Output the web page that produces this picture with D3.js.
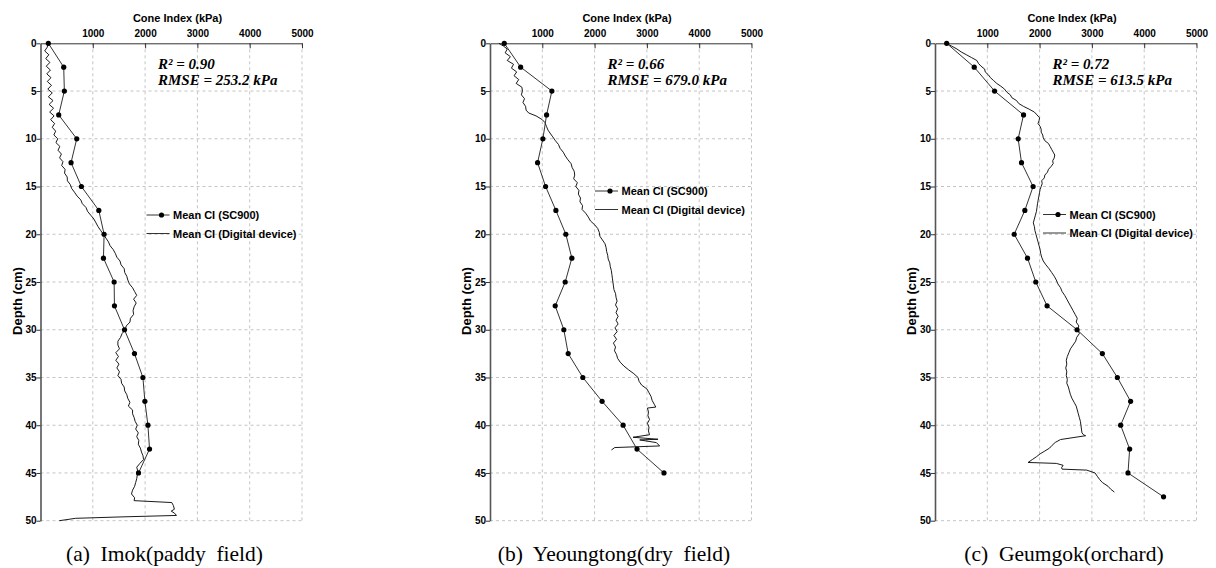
<!DOCTYPE html>
<html>
<head>
<meta charset="utf-8">
<script src="https://cdn.jsdelivr.net/npm/d3@7"></script>
<style>
  body { margin: 0; background: #fff; }
  svg text { font-family: "Liberation Sans", Arial, sans-serif; }
  .axis text { font-size: 10px; font-weight: bold; fill: #000; }
  .axis path, .axis line { stroke: #333; }
  .axis.y-axis path { stroke: #555; stroke-width: 1.6px; }
  .grid line { stroke: #c4c4c4; stroke-dasharray: 3,3; }
  .axis-title { font-size: 11px; font-weight: bold; }
  .stat { font-family: "Liberation Serif", "Times New Roman", serif !important; font-style: italic; font-weight: bold; font-size: 15px; }
  .legend text { font-size: 11px; font-weight: bold; }
  .caption { font-family: "Liberation Serif", "Times New Roman", serif !important; font-size: 21.5px; white-space: pre; }
  .sc900 { fill: none; stroke: #333; stroke-width: 1px; }
  .device { fill: none; stroke: #000; stroke-width: 0.9px; }
</style>
</head>
<body>
<div id="chart"></div>
<script>
// tick values
var ciTicks = [1000, 2000, 3000, 4000, 5000];
var depthTicks = [0, 5, 10, 15, 20, 25, 30, 35, 40, 45, 50];

// SC900 penetrometer, one reading every 2.5 cm
var sc900Depth = [0, 2.5, 5, 7.5, 10, 12.5, 15, 17.5, 20, 22.5, 25, 27.5, 30, 32.5, 35, 37.5, 40, 42.5, 45, 47.5];
var imokSC900 = [150, 444, 456, 348, 693, 584, 782, 1115, 1216, 1204, 1408, 1414, 1606, 1797, 1958, 1996, 2054, 2085, 1874];
var yeoungtongSC900 = [273, 586, 1183, 1082, 1011, 910, 1063, 1260, 1450, 1565, 1438, 1247, 1412, 1495, 1775, 2143, 2545, 2811, 3326];
var geumgokSC900 = [223, 750, 1139, 1693, 1590, 1654, 1876, 1718, 1514, 1769, 1927, 2143, 2716, 3200, 3487, 3740, 3550, 3722, 3690, 4370];

// digital device traces
var imokDeviceDepth = [0, 0.4, 0.8, 1.2, 1.6, 2.0, 2.4, 2.8, 3.2, 3.6, 4.0, 4.4, 4.8, 5.2, 5.6, 6.0, 6.4, 6.8, 7.2, 7.6,
  8.0, 8.4, 8.8, 9.2, 9.6, 10.0, 10.4, 10.8, 11.2, 11.6, 12.0, 12.4, 12.8, 13.2, 13.6, 14.0, 14.4, 14.8, 15.2, 15.6,
  16.0, 16.4, 16.8, 17.2, 17.6, 18.0, 18.4, 18.8, 19.2, 19.6, 20.0, 20.4, 20.8, 21.2, 21.6, 22.0, 22.4, 22.8, 23.2, 23.6,
  24.0, 24.4, 24.8, 25.2, 25.6, 26.0, 26.4, 26.8, 27.2, 27.6, 28.0, 28.4, 28.8, 29.2, 29.6, 30.0, 30.4, 30.8, 31.2, 31.6,
  32.0, 32.4, 32.8, 33.2, 33.6, 34.0, 34.4, 34.8, 35.2, 35.6, 36.0, 36.4, 36.8, 37.2, 37.6, 38.0, 38.4, 38.8, 39.2, 39.6,
  40.0, 40.4, 40.8, 41.2, 41.6, 42.0, 42.4, 42.8, 43.2, 43.6, 44.0, 44.4, 44.8, 45.2, 45.6, 46.0, 46.4, 46.8, 47.2, 47.6,
  47.9, 48.1, 48.4, 48.8, 49.0, 49.2, 49.45, 49.6, 49.75, 50.0];
var imokDeviceCI = [145, 130, 80, 160, 100, 180, 110, 190, 120, 200, 130, 210, 140, 225, 150, 240, 165, 250, 175, 260,
  195, 270, 225, 290, 255, 330, 295, 370, 335, 400, 365, 430, 405, 470, 460, 510, 515, 570, 595, 650,
  700, 770, 800, 870, 900, 960, 1020, 1060, 1100, 1150, 1200, 1250, 1300, 1330, 1390, 1430, 1460, 1520, 1540, 1600,
  1610, 1650, 1670, 1700, 1760, 1800, 1840, 1780, 1830, 1790, 1770, 1780, 1720, 1710, 1640, 1620, 1560, 1530, 1480, 1480,
  1510, 1440, 1490, 1440, 1500, 1460, 1510, 1480, 1540, 1550, 1600, 1610, 1650, 1670, 1710, 1680, 1760, 1760, 1790, 1810,
  1850, 1820, 1870, 1840, 1880, 1870, 1910, 1930, 1960, 1970, 1900, 1840, 1860, 1850, 1840, 1820, 1800, 1760, 1740, 1800,
  1790, 2510, 2540, 2560, 2500, 2560, 2600, 1560, 670, 360];

var yeoungtongDeviceDepth = [0, 0.3, 0.6, 1.0, 1.4, 1.8, 2.2, 2.6, 3.0, 3.4, 3.8, 4.2, 4.6, 5.0, 5.4, 5.8, 6.2, 6.6, 7.0, 7.3,
  7.6, 8.0, 8.3, 8.7, 9.1, 9.5, 9.8, 10.2, 10.6, 11.0, 11.4, 11.8, 12.2, 12.6, 13.0, 13.4, 13.8, 14.2, 14.6, 15.0,
  15.4, 15.8, 16.2, 16.6, 17.0, 17.4, 17.8, 18.2, 18.6, 19.0, 19.4, 19.8, 20.2, 20.6, 21.0, 21.4, 21.8, 22.2, 22.6, 23.0,
  23.4, 23.8, 24.2, 24.6, 25.0, 25.4, 25.8, 26.2, 26.6, 27.0, 27.4, 27.8, 28.2, 28.6, 29.0, 29.4, 29.8, 30.2, 30.6, 31.0,
  31.4, 31.8, 32.2, 32.6, 33.0, 33.4, 33.8, 34.2, 34.6, 35.0, 35.4, 35.8, 36.2, 36.6, 37.0, 37.4, 37.8, 38.1, 38.2, 38.6,
  39.0, 39.4, 39.8, 40.2, 40.6, 41.0, 41.26, 41.47, 41.54, 41.82, 42.17, 42.34, 42.59];
var yeoungtongDeviceCI = [170, 260, 330, 290, 390, 330, 450, 410, 510, 460, 550, 500, 610, 620, 600, 660, 630, 680, 690, 740,
  880, 1000, 1050, 1080, 1110, 1160, 1200, 1250, 1310, 1340, 1400, 1440, 1490, 1550, 1570, 1610, 1620, 1600, 1670, 1640,
  1700, 1690, 1730, 1720, 1770, 1760, 1830, 1880, 1920, 2000, 2060, 2090, 2100, 2150, 2200, 2220, 2230, 2250, 2260, 2290,
  2300, 2320, 2330, 2340, 2350, 2360, 2370, 2400, 2410, 2430, 2400, 2440, 2410, 2450, 2410, 2450, 2390, 2430, 2370, 2420,
  2360, 2400, 2380, 2420, 2440, 2490, 2560, 2650, 2750, 2830, 2850, 2900, 3000, 3040, 3080, 3100, 3140, 3170, 3010, 3030,
  3020, 3050, 3010, 3040, 3030, 3050, 2735, 3213, 2863, 3181, 3244, 2385, 2322];

var geumgokDeviceDepth = [0, 0.3, 0.6, 0.9, 1.2, 1.5, 1.8, 2.1, 2.4, 2.7, 3.0, 3.3, 3.6, 3.9, 4.2, 4.5, 4.8, 5.1, 5.4, 5.7,
  6.0, 6.3, 6.6, 6.9, 7.2, 7.5, 7.8, 8.1, 8.4, 8.7, 9.0, 9.3, 9.6, 9.9, 10.2, 10.5, 10.8, 11.1, 11.4, 11.7,
  12.0, 12.3, 12.6, 12.9, 13.2, 13.5, 13.8, 14.1, 14.4, 14.7, 15.0, 15.3, 15.6, 15.9, 16.2, 16.5, 16.8, 17.2, 17.6, 18.0,
  18.4, 18.8, 19.2, 19.6, 20.0, 20.4, 20.8, 21.2, 21.6, 22.0, 22.4, 22.8, 23.2, 23.6, 24.0, 24.4, 24.8, 25.2, 25.6, 26.0,
  26.4, 26.8, 27.2, 27.6, 28.0, 28.4, 28.8, 29.2, 29.6, 30.0, 30.4, 30.8, 31.2, 31.6, 32.0, 32.4, 32.8, 33.2, 33.6, 34.0,
  34.4, 34.8, 35.2, 35.6, 36.0, 36.4, 36.8, 37.2, 37.6, 38.0, 38.4, 38.8, 39.2, 39.6, 40.0, 40.4, 40.8, 41.0, 41.1, 41.3,
  41.5, 41.8, 42.1, 42.4, 42.7, 43.0, 43.3, 43.6, 43.9, 44.0, 44.2, 44.45, 44.6, 44.7, 45.0, 45.4, 45.7, 46.0, 46.4, 46.7, 47.0];
var geumgokDeviceCI = [220, 320, 420, 500, 600, 700, 800, 830, 880, 950, 960, 1020, 1060, 1120, 1180, 1260, 1330, 1370, 1440, 1470,
  1560, 1600, 1690, 1800, 1900, 1950, 2000, 1990, 1970, 2010, 2030, 2030, 2060, 2070, 2100, 2170, 2200, 2230, 2260, 2290,
  2280, 2250, 2260, 2220, 2170, 2150, 2100, 2090, 2040, 2050, 2030, 2010, 2000, 1990, 1980, 1970, 1960, 1950, 1940, 1920,
  1900, 1880, 1900, 1910, 1930, 1950, 1970, 1990, 2010, 2020, 2040, 2070, 2120, 2180, 2230, 2280, 2320, 2350, 2400, 2430,
  2480, 2520, 2560, 2600, 2640, 2680, 2720, 2700, 2750, 2730, 2760, 2710, 2690, 2640, 2590, 2560, 2530, 2510, 2520, 2500,
  2520, 2510, 2530, 2520, 2550, 2570, 2590, 2620, 2660, 2700, 2720, 2740, 2760, 2780, 2790, 2800, 2810, 2840, 2880, 2640,
  2400, 2300, 2240, 2190, 2100, 2010, 1940, 1860, 1780, 2320, 2450, 2420, 2430, 2900, 3060, 3110, 3150, 3200, 3310, 3360, 3430];

var r2Labels = ["R\u00B2 = 0.90", "R\u00B2 = 0.66", "R\u00B2 = 0.72"];
var rmseLabels = ["RMSE = 253.2 kPa", "RMSE = 679.0 kPa", "RMSE = 613.5 kPa"];
var captions = ["(a)  Imok(paddy  field)", "(b)  Yeoungtong(dry  field)", "(c)  Geumgok(orchard)"];
var legendLabels = ["Mean CI (SC900)", "Mean CI (Digital device)"];

function zip(depths, values) {
  return values.map(function(v, i) { return { depth: depths[i], ci: v }; });
}

var panels = [
  { sc900: zip(sc900Depth, imokSC900), device: zip(imokDeviceDepth, imokDeviceCI) },
  { sc900: zip(sc900Depth, yeoungtongSC900), device: zip(yeoungtongDeviceDepth, yeoungtongDeviceCI) },
  { sc900: zip(sc900Depth, geumgokSC900), device: zip(geumgokDeviceDepth, geumgokDeviceCI) }
];

// layout of each panel
var layout = [
  { left: 40.5, legendX: 106, legendY: 215, captionX: 124 },
  { left: 490, legendX: 105, legendY: 191, captionX: 124 },
  { left: 935, legendX: 108, legendY: 214.5, captionX: 129 }
];
var plotW = 261.5, plotTop = 43.3, plotBottom = 520.7;

var svg = d3.select('#chart')
  .append('svg')
  .attr('width', 1216)
  .attr('height', 568);

panels.forEach(function(p, i) {
  var L = layout[i];
  var x = d3.scaleLinear().domain([0, 5000]).range([L.left, L.left + plotW]);
  var y = d3.scaleLinear().domain([0, 50]).range([plotTop, plotBottom]);
  var g = svg.append('g');

  // dashed grid
  var grid = g.append('g').attr('class', 'grid');
  grid.selectAll('.vline')
    .data(ciTicks)
    .enter()
    .append('line')
    .attr('x1', function(d) { return x(d); })
    .attr('x2', function(d) { return x(d); })
    .attr('y1', plotTop)
    .attr('y2', plotBottom);
  grid.selectAll('.hline')
    .data(depthTicks.slice(1))
    .enter()
    .append('line')
    .attr('x1', L.left)
    .attr('x2', L.left + plotW)
    .attr('y1', function(d) { return y(d); })
    .attr('y2', function(d) { return y(d); });

  // axes
  g.append('g')
    .attr('class', 'axis x-axis')
    .attr('transform', 'translate(0,' + plotTop + ')')
    .call(d3.axisTop(x).tickValues(ciTicks).tickFormat(d3.format('d'))
      .tickSizeInner(-5).tickSizeOuter(0).tickPadding(6.5));

  g.append('g')
    .attr('class', 'axis y-axis')
    .attr('transform', 'translate(' + L.left + ',0)')
    .call(d3.axisLeft(y).tickValues(depthTicks).tickSizeInner(4).tickSizeOuter(0).tickPadding(0));

  g.append('text')
    .attr('class', 'axis-title')
    .attr('x', L.left + 137)
    .attr('y', 21.5)
    .attr('text-anchor', 'middle')
    .text('Cone Index (kPa)');

  g.append('text')
    .attr('class', 'axis-title')
    .style('font-size', '13px')
    .attr('transform', 'translate(' + (L.left - 19) + ',301) rotate(-90)')
    .attr('text-anchor', 'middle')
    .text('Depth (cm)');

  // series
  var line = d3.line()
    .x(function(d) { return x(d.ci); })
    .y(function(d) { return y(d.depth); });

  g.append('path')
    .datum(p.device)
    .attr('class', 'device')
    .attr('d', line);

  g.append('path')
    .datum(p.sc900)
    .attr('class', 'sc900')
    .attr('d', line);

  g.selectAll('.dot')
    .data(p.sc900)
    .enter()
    .append('circle')
    .attr('cx', function(d) { return x(d.ci); })
    .attr('cy', function(d) { return y(d.depth); })
    .attr('r', 2.6)
    .attr('fill', '#000');

  // statistics
  g.append('text')
    .attr('class', 'stat')
    .attr('x', L.left + 117.5)
    .attr('y', 68.5)
    .text(r2Labels[i]);
  g.append('text')
    .attr('class', 'stat')
    .attr('x', L.left + 117.5)
    .attr('y', 84.5)
    .text(rmseLabels[i]);

  // legend
  var lg = g.append('g')
    .attr('class', 'legend')
    .attr('transform', 'translate(' + (L.left + L.legendX) + ',' + L.legendY + ')');
  lg.append('line').attr('x1', 0).attr('x2', 23).attr('y1', 0).attr('y2', 0).attr('class', 'sc900');
  lg.append('circle').attr('cx', 15).attr('cy', 0).attr('r', 2.6).attr('fill', '#000');
  lg.append('line').attr('x1', 0).attr('x2', 23).attr('y1', 18.5).attr('y2', 18.5).attr('class', 'sc900');
  lg.selectAll('text')
    .data(legendLabels)
    .enter()
    .append('text')
    .attr('x', 26.5)
    .attr('y', function(d, j) { return j * 18.5 + 4; })
    .text(function(d) { return d; });

  g.append('text')
    .attr('class', 'caption')
    .attr('x', L.left + L.captionX)
    .attr('y', 561)
    .attr('text-anchor', 'middle')
    .text(captions[i]);
});
</script>
</body>
</html>
